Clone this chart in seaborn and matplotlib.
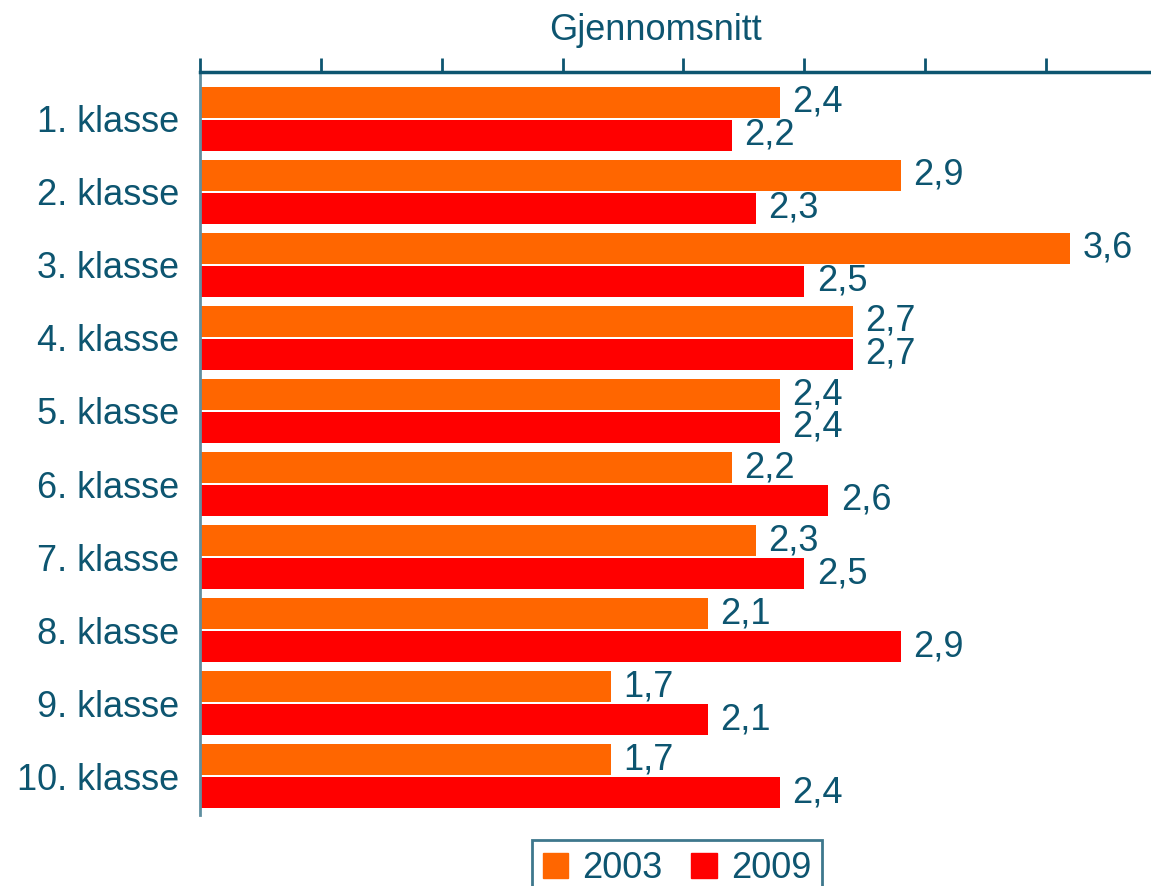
import matplotlib
matplotlib.use("Agg")
import matplotlib.pyplot as plt
import seaborn as sns
import pandas as pd

# data
klasser = ["1. klasse", "2. klasse", "3. klasse", "4. klasse", "5. klasse",
           "6. klasse", "7. klasse", "8. klasse", "9. klasse", "10. klasse"]
years = ["2003", "2009"]
values_2003 = [2.4, 2.9, 3.6, 2.7, 2.4, 2.2, 2.3, 2.1, 1.7, 1.7]
values_2009 = [2.2, 2.3, 2.5, 2.7, 2.4, 2.6, 2.5, 2.9, 2.1, 2.4]

TEXT = "#0d5570"
colors = {"2003": "#ff6600", "2009": "#ff0000"}

df = pd.DataFrame({
    "klasse": klasser * 2,
    "aar": [years[0]] * len(klasser) + [years[1]] * len(klasser),
    "verdi": values_2003 + values_2009,
})

sns.set_style("white")
plt.rcParams["font.family"] = ["Liberation Sans", "DejaVu Sans"]

fig = plt.figure(figsize=(11.51, 8.86), dpi=100)
ax = fig.add_axes([200 / 1151, 1 - 815 / 886, 1 - 200 / 1151, (815 - 72) / 886])

sns.barplot(data=df, y="klasse", x="verdi", hue="aar", order=klasser,
            hue_order=years, palette=colors, orient="h", width=0.9,
            gap=0.06, saturation=1, ax=ax, legend=False, linewidth=0)

for cont in ax.containers:
    ax.bar_label(cont, labels=[f"{v:.1f}".replace(".", ",") for v in cont.datavalues],
                 padding=9, fontsize=26, color=TEXT)

ax.set_xlim(0, 3.935)
ax.set_ylim(9.53, -0.64)
ax.set_xticks([0, 0.5, 1, 1.5, 2, 2.5, 3, 3.5])
ax.xaxis.tick_top()
ax.tick_params(axis="x", direction="out", length=10, width=2, color=TEXT,
               labeltop=False, labelbottom=False)
ax.tick_params(axis="y", length=0, pad=15, labelsize=26, labelcolor=TEXT)
ax.set_xlabel("")
ax.set_ylabel("")

for side in ["right", "bottom"]:
    ax.spines[side].set_visible(False)
ax.spines["top"].set_color(TEXT)
ax.spines["top"].set_linewidth(2.5)
ax.spines["left"].set_color("#5f8fa0")
ax.spines["left"].set_linewidth(2)

fig.text(655 / 1151, 1 - 30 / 886, "Gjennomsnitt", ha="center", va="center",
         fontsize=26, color=TEXT)

handles = [plt.Rectangle((0, 0), 1, 1, color=colors[y]) for y in years]
leg = fig.legend(handles, years, loc="upper center",
                 bbox_to_anchor=(677 / 1151, 1 - 822 / 886), ncol=2,
                 fontsize=26, frameon=True, fancybox=False, handlelength=0.7,
                 handleheight=0.7, handletextpad=0.4, columnspacing=0.8,
                 borderpad=0.3, labelcolor=TEXT)
leg.get_frame().set_edgecolor(TEXT)
leg.get_frame().set_linewidth(2)

fig.savefig("out.png", dpi=100)
